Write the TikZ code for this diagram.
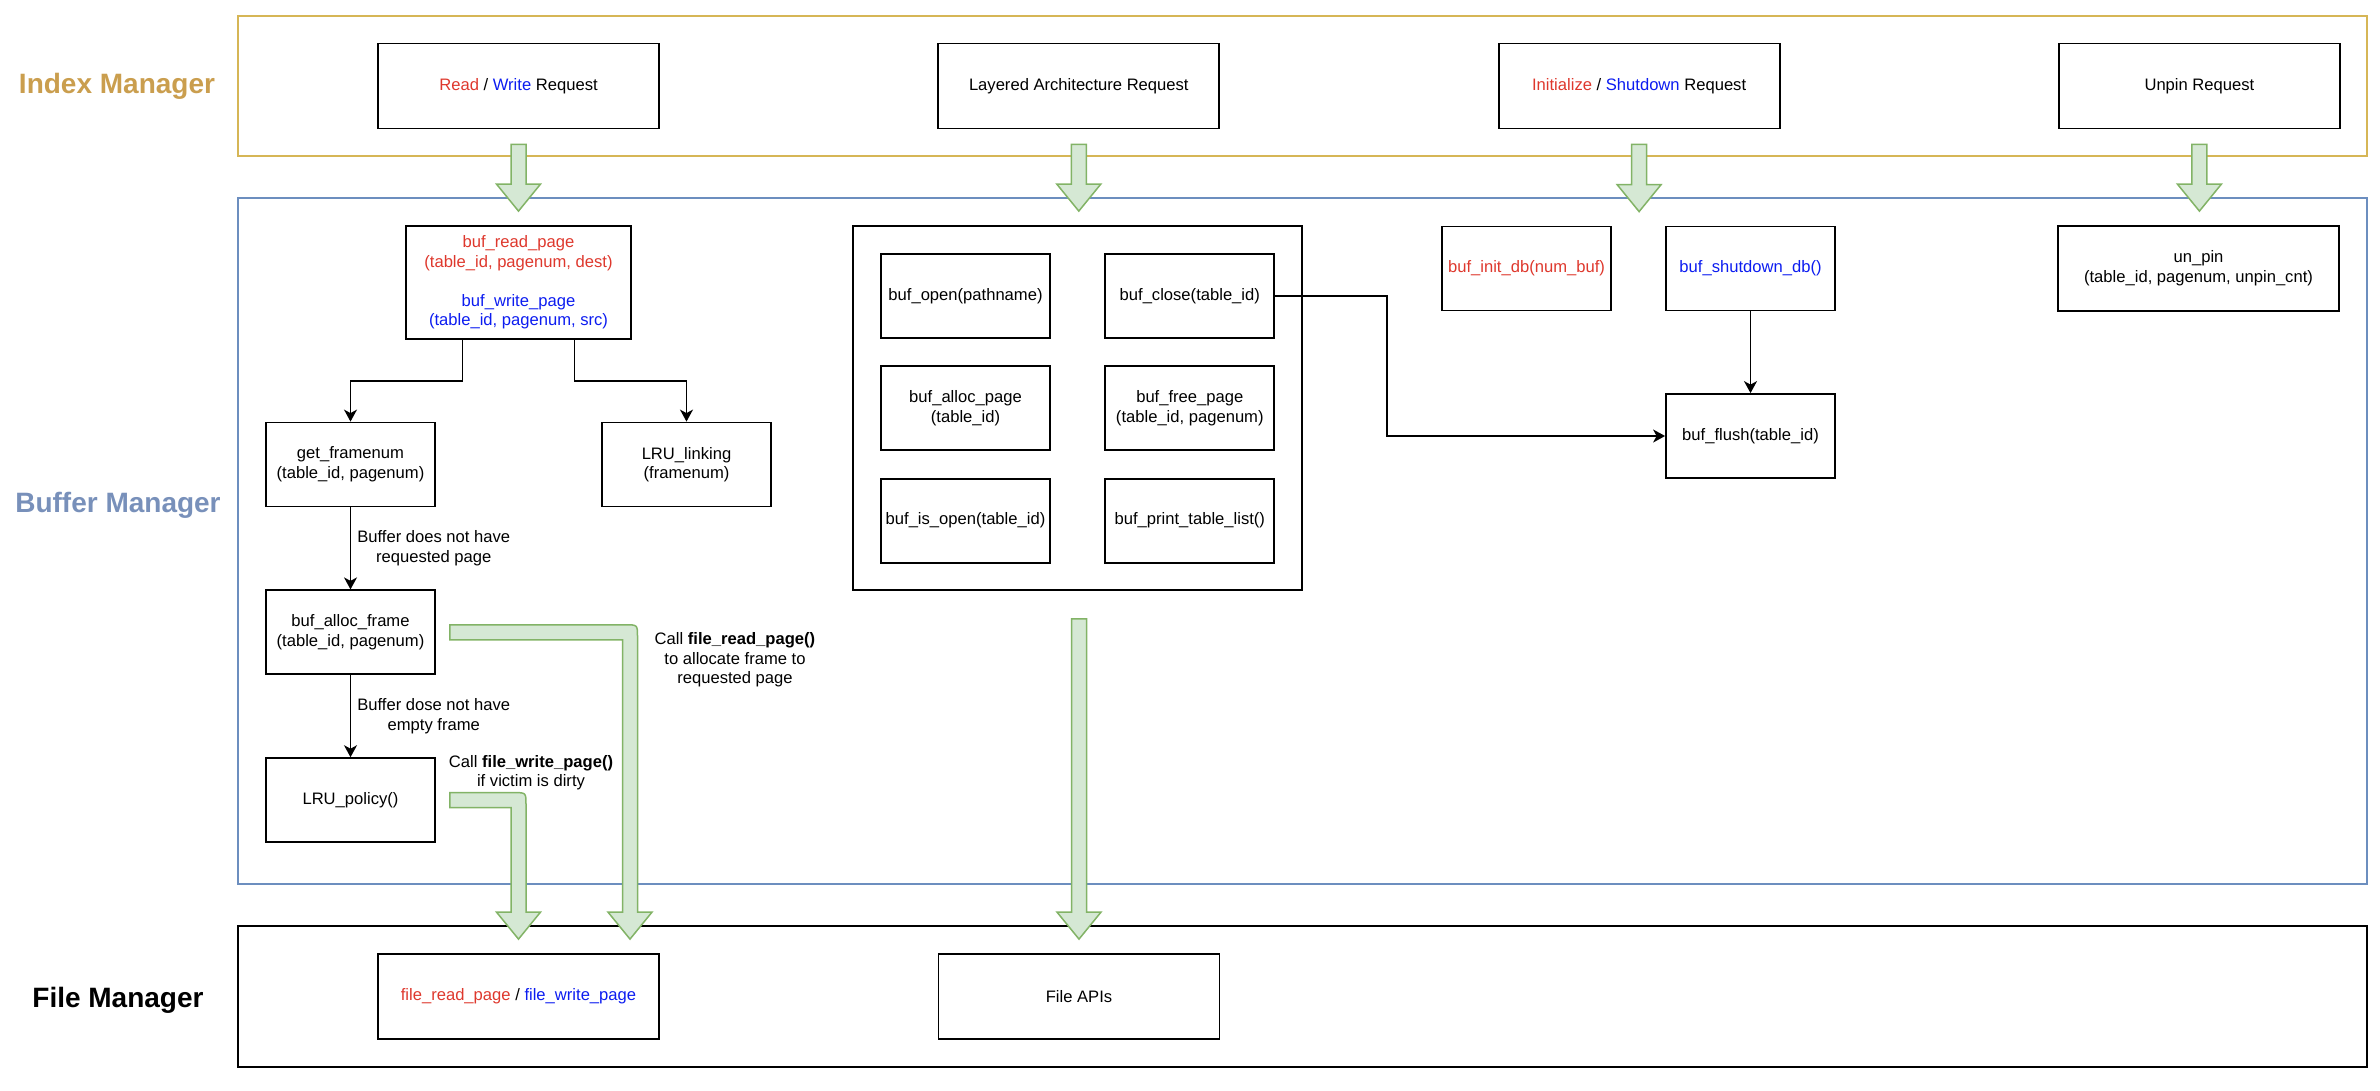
\documentclass[tikz,border=0pt]{standalone}
\usepackage{fontspec}
\setmainfont{Liberation Sans}
\usetikzlibrary{arrows.meta,positioning,calc}
\definecolor{rdtxt}{RGB}{222,56,45}
\definecolor{bltxt}{RGB}{12,28,240}
\definecolor{idxline}{HTML}{D6B656}
\definecolor{idxtxt}{RGB}{202,158,78}
\definecolor{bufline}{HTML}{6C8EBF}
\definecolor{buftxt}{RGB}{120,144,186}
\definecolor{fatfill}{HTML}{D5E8D4}
\definecolor{fatline}{HTML}{82B366}
\newcommand{\fatdown}[2]{%
  \filldraw[fat] let \p1=(#1), \p2=(#2) in
    (\x1-7.5pt,\y1) -- (\x1+7.5pt,\y1) -- (\x1+7.5pt,\y2+27pt) -- (\x1+22pt,\y2+27pt)
    -- (\x1,\y2) -- (\x1-22pt,\y2+27pt) -- (\x1-7.5pt,\y2+27pt) -- cycle;}
\newcommand{\fatbend}[2]{%
  \filldraw[fat] let \p1=(#1), \p2=(#2) in
    (\x1,\y1+7.5pt) -- (\x2-4.5pt,\y1+7.5pt) .. controls (\x2+7.5pt,\y1+7.5pt) .. (\x2+7.5pt,\y1-4.5pt)
    -- (\x2+7.5pt,\y2+27pt) -- (\x2+22pt,\y2+27pt) -- (\x2,\y2) -- (\x2-22pt,\y2+27pt)
    -- (\x2-7.5pt,\y2+27pt) -- (\x2-7.5pt,\y1-7.5pt) -- (\x1,\y1-7.5pt) -- cycle;}

\begin{document}
\begin{tikzpicture}[x=1pt, y=-1pt,
    box/.style={rectangle, draw=black, line width=1.8pt, align=center, inner sep=0pt,
                minimum width=169pt, minimum height=84pt, font=\fontsize{16.6}{19.6}\selectfont},
    req/.style={box, minimum width=281pt, minimum height=85pt},
    frame/.style={rectangle, line width=1.6pt, minimum width=2129pt},
    mgr/.style={font=\fontsize{28}{34}\selectfont\bfseries},
    note/.style={align=center, inner sep=0pt, font=\fontsize{16.6}{19.6}\selectfont},
    flow/.style={-{Stealth[length=12pt, width=13pt, inset=3.5pt]}, line width=1.6pt},
    fat/.style={fill=fatfill, draw=fatline, line width=1.5pt}
]
\useasboundingbox (0,0) rectangle (2380,1090);
\node[frame, draw=idxline, minimum height=140pt] (im) at (1302.5,86) {};
\node[frame, draw=bufline, minimum height=686pt] (bm) at (1302.5,541) {};
\node[frame, draw=black, minimum height=141pt] (fm) at (1302.5,996.5) {};
\node[mgr, text=idxtxt] (imlbl) at (117,86) {Index Manager};
\node[mgr, text=buftxt] (bmlbl) at (118,505) {Buffer Manager};
\node[mgr] (fmlbl) at (118,1000) {File Manager};

\node[req] (rw) at (518.5,86) {\textcolor{rdtxt}{Read} / \textcolor{bltxt}{Write} Request};
\node[req, right=277.5pt of rw] (la) {Layered Architecture Request};
\node[req, right=277.5pt of la] (is) {\textcolor{rdtxt}{Initialize} / \textcolor{bltxt}{Shutdown} Request};
\node[req, right=277.5pt of is] (up) {Unpin Request};

\node[box, minimum width=225pt, minimum height=113pt, text=rdtxt] (rp) at (518.5,282.5)
  {buf\_read\_page\\(table\_id, pagenum, dest)\\[19.6pt]\textcolor{bltxt}{buf\_write\_page}\\\textcolor{bltxt}{(table\_id, pagenum, src)}};
\node[box] (gf) at (350.5,464.5) {get\_framenum\\(table\_id, pagenum)};
\node[box] (ll) at (686.5,464.5) {LRU\_linking\\(framenum)};
\node[box, below=82pt of gf] (af) {buf\_alloc\_frame\\(table\_id, pagenum)};
\node[box, below=82pt of af] (lp) {LRU\_policy()};

\node[box, minimum width=449pt, minimum height=364pt] (lb) at (1077.5,408) {};
\node[box] (bo) at (965.5,296) {buf\_open(pathname)};
\node[box, right=53.5pt of bo] (bc) {buf\_close(table\_id)};
\node[box, below=26.5pt of bo] (ba) {buf\_alloc\_page\\(table\_id)};
\node[box, below=26.5pt of bc] (bf) {buf\_free\_page\\(table\_id, pagenum)};
\node[box, below=26.5pt of ba] (bi) {buf\_is\_open(table\_id)};
\node[box, below=26.5pt of bf] (bp) {buf\_print\_table\_list()};

\node[box, text=rdtxt] (bn) at (1526.5,268.5) {buf\_init\_db(num\_buf)};
\node[box, text=bltxt] (bs) at (1750.5,268.5) {buf\_shutdown\_db()};
\node[box] (bl) at (1750.5,436) {buf\_flush(table\_id)};
\node[req] (un) at (2198.5,268.5) {un\_pin\\(table\_id, pagenum, unpin\_cnt)};

\node[req] (fr) at (518.5,996.5) {\textcolor{rdtxt}{file\_read\_page} / \textcolor{bltxt}{file\_write\_page}};
\node[req] (fa) at (1079,996.5) {File APIs};

\node[note] (n1) at (735,660) {Call \textbf{file\_read\_page()}\\to allocate frame to\\requested page};
\node[note] (n2) at (531,772.5) {Call \textbf{file\_write\_page()}\\if victim is dirty};

\draw[flow] ([xshift=-56pt]rp.south) -- ++(0,41) -| (gf.north);
\draw[flow] ([xshift=56pt]rp.south) -- ++(0,41) -| (ll.north);
\draw[flow] (gf) -- node[note, right=6pt] {Buffer does not have\\requested page} (af);
\draw[flow] (af) -- node[note, right=6pt] {Buffer dose not have\\empty frame} (lp);
\draw[flow] (bc.east) -- ++(112,0) |- (bl.west);
\draw[flow] (bs) -- (bl);

\foreach \s/\t in {rw/rp, la/lb, is/bs, up/un} {\fatdown{$(\s.south)+(0,15)$}{$(\t.north)+(0,-14)$}}
\fatdown{$(fa.north |- lb.south)+(0,28)$}{$(fa.north)+(0,-14)$}
\fatbend{$(af.east)+(14,0)$}{$(fr.north)+(111.5,-14)$}
\fatbend{$(lp.east)+(14,0)$}{$(fr.north)+(0,-14)$}
\end{tikzpicture}
\end{document}
